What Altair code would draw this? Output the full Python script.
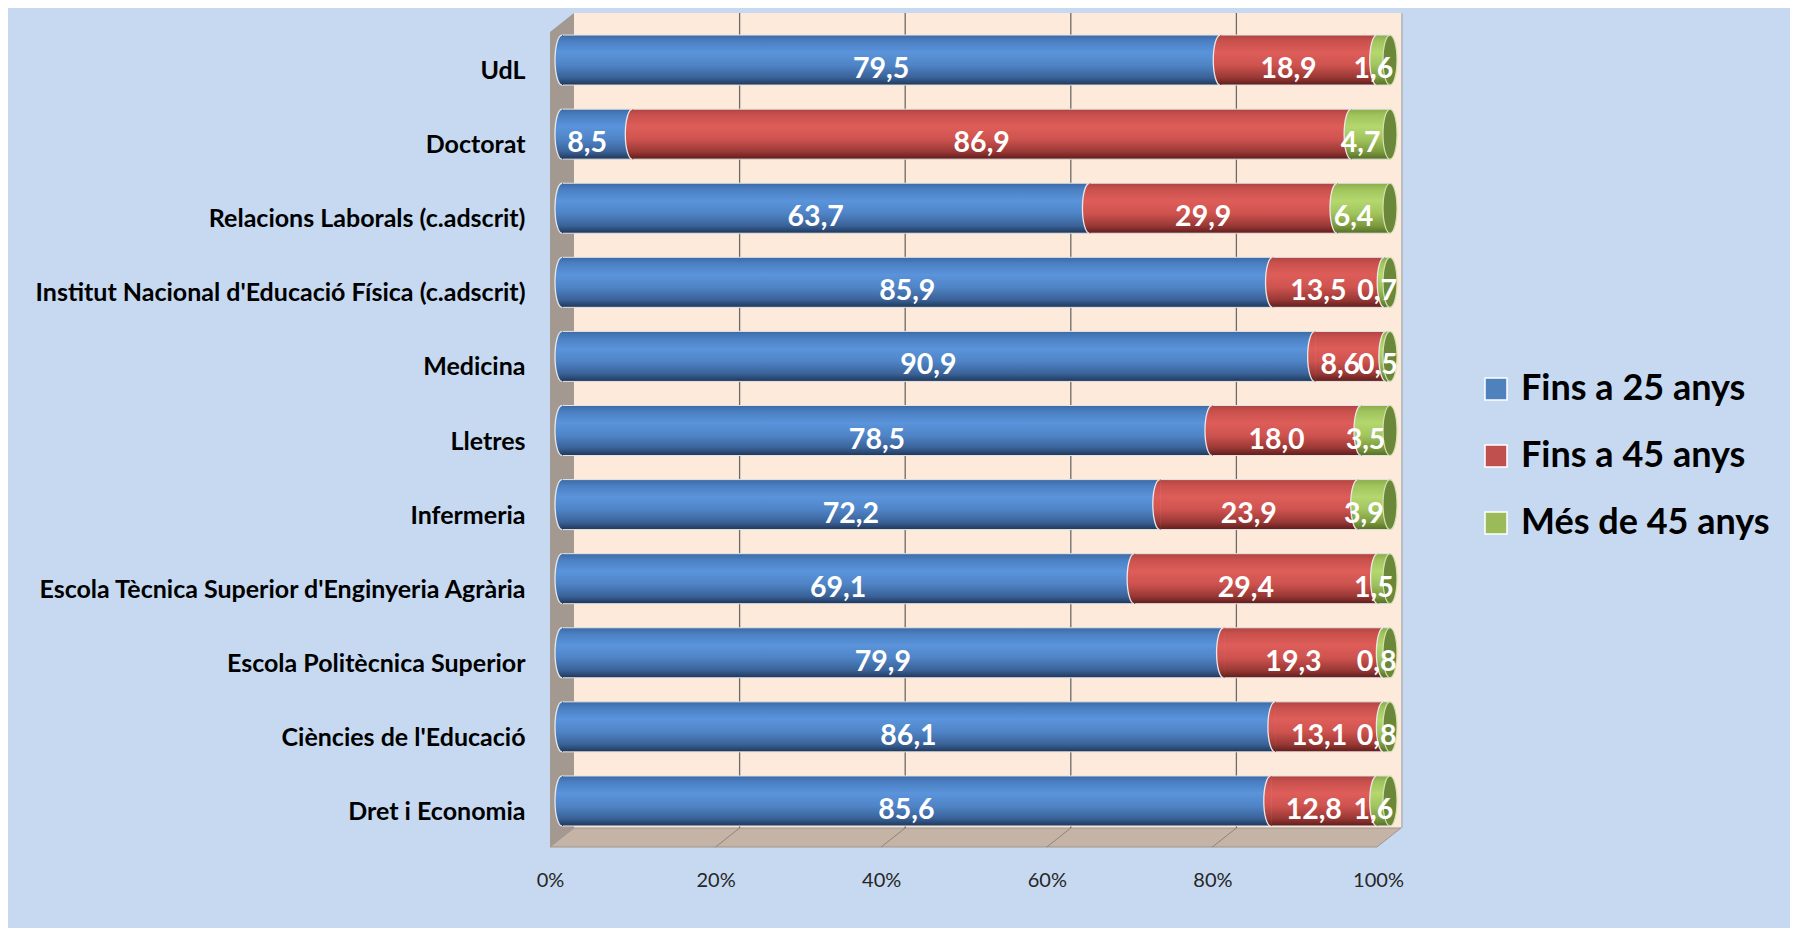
import altair as alt
import pandas as pd

categories = [
    "UdL",
    "Doctorat",
    "Relacions Laborals (c.adscrit)",
    "Institut Nacional d'Educació Física (c.adscrit)",
    "Medicina",
    "Lletres",
    "Infermeria",
    "Escola Tècnica Superior d'Enginyeria Agrària",
    "Escola Politècnica Superior",
    "Ciències de l'Educació",
    "Dret i Economia",
]
series = ["Fins a 25 anys", "Fins a 45 anys", "Més de 45 anys"]
fins_25 = [79.5, 8.5, 63.7, 85.9, 90.9, 78.5, 72.2, 69.1, 79.9, 86.1, 85.6]
fins_45 = [18.9, 86.9, 29.9, 13.5, 8.6, 18.0, 23.9, 29.4, 19.3, 13.1, 12.8]
mes_45 = [1.6, 4.7, 6.4, 0.7, 0.5, 3.5, 3.9, 1.5, 0.8, 0.8, 1.6]
tick_values = [0, 0.2, 0.4, 0.6, 0.8, 1.0]
grid_values = [0.2, 0.4, 0.6, 0.8]
legend_colors = ["#4F81BD", "#C0504D", "#9BBB59"]

rows = []
for s_i, (s, vals) in enumerate(zip(series, [fins_25, fins_45, mes_45])):
    for c, v in zip(categories, vals):
        rows.append({"category": c, "series": s, "order": s_i, "value": v})
df = pd.DataFrame(rows)
one = pd.DataFrame({"k": [0]})
grid_df = pd.DataFrame({"k": grid_values})
edge_df = pd.DataFrame({"k": [1.0]})

W, H = 828, 815


def grad(stops):
    return alt.LinearGradient(
        gradient="linear",
        stops=[alt.GradientStop(color=c, offset=o) for o, c in stops],
        x1=0, x2=0, y1=0, y2=1,
    )


grads = [
    grad([(0, "#3D69A5"), (0.12, "#4A7FC2"), (0.35, "#5B94DB"), (0.6, "#4F84C6"), (0.85, "#3A6298"), (1, "#1F3658")]),
    grad([(0, "#B04441"), (0.12, "#C9514D"), (0.35, "#DE5D59"), (0.6, "#CE534F"), (0.85, "#993835"), (1, "#5E1D1B")]),
    grad([(0, "#8AAB4A"), (0.12, "#A0C45C"), (0.35, "#B4D76E"), (0.6, "#A2C45E"), (0.85, "#7C9A3F"), (1, "#566E25")]),
]

xscale = alt.Scale(domain=[0, 1], nice=False, zero=True)
xaxis = alt.Axis(
    values=tick_values, format="%", title=None, domain=False, ticks=False, grid=False,
    labelFont="Lato", labelFontSize=20, labelColor="#262626", labelPadding=32,
    labelOffset=-12, labelFlush=False,
)
yscale = alt.Scale(domain=categories, paddingInner=0, paddingOuter=0)
yaxis = alt.Axis(
    title=None, domain=False, ticks=False, grid=False,
    labelFont="Lato", labelFontWeight="bold", labelFontSize=25, labelColor="#000000",
    labelPadding=37, labelOffset=11, labelLimit=700,
)
Y = alt.Y("category:N", sort=categories, scale=yscale, axis=yaxis)

base = (
    alt.Chart(df)
    .transform_calculate(label="replace(format(datum.value, '.1f'), '.', ',')")
    .transform_stack(
        stack="value", groupby=["category"], as_=["x0", "x1"],
        offset="normalize", sort=[alt.SortField("order", order="ascending")],
    )
    .transform_calculate(mid="(datum.x0 + datum.x1) / 2")
)

wall = alt.Chart(one).mark_rect(fill="#FDEADA", xOffset=12, x2Offset=11).encode(
    x=alt.XDatum(0, scale=xscale, axis=xaxis), x2=alt.X2Datum(1),
    y=alt.value(-10), y2=alt.value(805),
)
left_wall = alt.Chart(one).mark_point(
    shape="M -12 9 L 12 -10 L 12 805 L -12 824 Z", size=4, filled=True,
    fill="#A39990", opacity=1, strokeWidth=0,
).encode(x=alt.value(0), y=alt.value(0))
floor = alt.Chart(one).mark_point(
    shape="M -12 824 L 12 805 L 839 805 L 815 824 Z", size=4, filled=True,
    fill="#C5B4A6", opacity=1, stroke="#A0958B", strokeWidth=1,
).encode(x=alt.value(0), y=alt.value(0))
grid = alt.Chart(grid_df).mark_rule(color="#6B6B6B", strokeWidth=1.3, xOffset=12).encode(
    x=alt.X("k:Q", scale=xscale, axis=xaxis), y=alt.value(-10), y2=alt.value(805)
)
edge = alt.Chart(edge_df).mark_rule(color="#B4B4B4", strokeWidth=1.5, xOffset=12).encode(
    x=alt.X("k:Q", scale=xscale, axis=xaxis), y=alt.value(-10), y2=alt.value(805)
)
floor_lines = alt.Chart(grid_df).mark_rule(
    color="#8F8378", strokeWidth=1, xOffset=12, x2Offset=-12
).encode(
    x=alt.X("k:Q", scale=xscale, axis=xaxis), x2="k:Q", y=alt.value(805), y2=alt.value(824)
)

CAP_FILL = "M 1 -25 L 0 -25 A 7 25 0 0 0 0 25 L 1 25 Z"
CAP_ARC = "M 0 -25 A 7 25 0 0 0 0 25"
END = "M 0 -25 A 7 25 0 1 1 0 25 A 7 25 0 1 1 0 -25 Z"

seg_layers = []
for s, g in zip(series, grads):
    sb = base.transform_filter(alt.datum.series == s)
    body = sb.mark_bar(fill=g, size=50, stroke="#E4E4E4", strokeWidth=1).encode(
        x=alt.X("x0:Q", scale=xscale, axis=xaxis), x2="x1:Q", y=Y
    )
    cap = sb.mark_point(
        shape=CAP_FILL, size=4, filled=True, fill=g, opacity=1, strokeWidth=0
    ).encode(x=alt.X("x0:Q", scale=xscale, axis=xaxis), y=Y)
    arc = sb.mark_point(
        shape=CAP_ARC, size=4, filled=False, stroke="#E8E8E8", opacity=1, strokeWidth=1.3
    ).encode(x=alt.X("x0:Q", scale=xscale, axis=xaxis), y=Y)
    seg_layers += [body, cap, arc]

end_face = base.transform_filter(alt.datum.series == series[-1]).mark_point(
    shape=END, size=4, filled=True, fill="#6B873A", opacity=1, stroke="#D4E2B0", strokeWidth=1.2
).encode(x=alt.X("x1:Q", scale=xscale, axis=xaxis), y=Y)

labels = base.mark_text(
    font="Lato", fontWeight="bold", fontSize=28.5, color="white",
    baseline="middle", align="center", dx=-10, dy=9,
).encode(x=alt.X("mid:Q", scale=xscale, axis=xaxis), y=Y, text="label:N")

legend_layer = base.mark_point(shape="square", filled=True, opacity=0).encode(
    x=alt.X("x0:Q", scale=xscale, axis=xaxis),
    y=Y,
    color=alt.Color(
        "series:N",
        scale=alt.Scale(domain=series, range=legend_colors),
        legend=alt.Legend(
            title=None, orient="none", legendX=916, legendY=348, padding=0,
            symbolType="square", symbolSize=484, symbolOpacity=1,
            symbolStrokeColor="white", symbolStrokeWidth=1.5,
            labelFont="Lato", labelFontWeight="bold", labelFontSize=36, labelColor="#000000",
            labelOffset=7, rowPadding=31, labelLimit=400,
        ),
    ),
)

chart = alt.layer(
    wall, left_wall, floor, grid, edge, floor_lines, *seg_layers, end_face, labels, legend_layer
).properties(
    width=W, height=H,
    autosize=alt.AutoSizeParams(type="none"),
    padding={"left": 554, "top": 15, "right": 400, "bottom": 90},
    background="#C6D9F1",
).configure_view(stroke=None)

chart.save("out.html", embed_options={"renderer": "svg", "actions": False})
